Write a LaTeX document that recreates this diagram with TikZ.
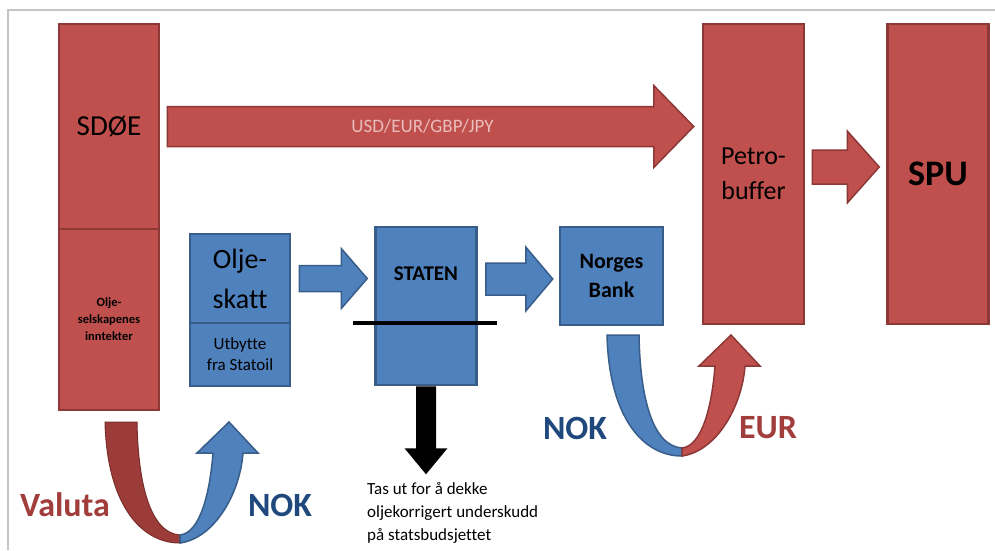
\documentclass[tikz,border=0pt]{standalone}
\usepackage{fontspec}
\setmainfont{Carlito}[Ligatures=NoCommon]
\usepackage{tikz}
\usetikzlibrary{calc,positioning}
\definecolor{redfill}{HTML}{C0504D}
\definecolor{redline}{HTML}{8C3836}
\definecolor{darkredfill}{HTML}{9B3C39}
\definecolor{darkredline}{HTML}{7A2D2B}
\definecolor{bluefill}{HTML}{4F81BD}
\definecolor{blueline}{HTML}{385D8A}
\definecolor{navytext}{HTML}{1F497D}
\definecolor{redtext}{HTML}{A13D3A}
\definecolor{pinktext}{HTML}{E8BDBC}
\definecolor{framegray}{HTML}{C4C4C4}
\tikzstyle{red box}=[rectangle,draw=redline,fill=redfill,line width=2.5pt,inner sep=0pt,align=center]
\tikzstyle{blue box}=[rectangle,draw=blueline,fill=bluefill,line width=2.5pt,inner sep=0pt,align=center]
\tikzstyle{red arrow}=[draw=redline,fill=redfill,line width=1.5pt]
\tikzstyle{dark red arrow}=[draw=darkredline,fill=darkredfill,line width=1pt]
\tikzstyle{blue arrow}=[draw=blueline,fill=bluefill,line width=1.5pt]
\tikzstyle{black arrow}=[fill=black]
\tikzstyle{currency}=[font=\fontsize{34}{40}\selectfont\bfseries]
% block arrow: style, from, to, half shaft, half head, head length
\newcommand{\blockarrow}[6]{%
  \coordinate (ba-h) at ($(#3)!#6pt!(#2)$);
  \path[#1] ($(#2)!#4pt!90:(#3)$) -- ($(ba-h)!#4pt!90:(#3)$) -- ($(ba-h)!#5pt!90:(#3)$)
    -- (#3) -- ($(ba-h)!#5pt!-90:(#3)$) -- ($(ba-h)!#4pt!-90:(#3)$) -- ($(#2)!#4pt!-90:(#3)$) -- cycle;}
% u-turn arrow: left style, right style, bottom point
\newcommand{\uturn}[3]{%
  \begin{scope}[shift={(#3)}]
    \path[#1] (-75,-121) .. controls (-73,-40) and (-40,0) .. (0,0) -- (0,-8)
      .. controls (-30,-10) and (-42,-60) .. (-43,-121) -- cycle;
    \path[#2] (0,0) .. controls (35,-5) and (60,-50) .. (63,-90) -- (78,-90) -- (49,-121)
      -- (17,-90) -- (33,-90) .. controls (30,-50) and (20,-10) .. (0,-8) -- cycle;
  \end{scope}}

\begin{document}
\begin{tikzpicture}[x=1pt,y=-1pt]
        \useasboundingbox (0,0) rectangle (995,550);
        \draw[framegray,line width=1.5pt] (995,10) -- (8,10) -- (8,550);
        % boxes
        \node[red box,minimum width=100pt,minimum height=205pt,font=\fontsize{29}{34}\selectfont] (sdoe) at (109,126.5) {SD\O E};
        \node[red box,minimum width=100pt,minimum height=181pt,font=\fontsize{12.5}{17}\selectfont\bfseries] (inntekter) at (109,319.5) {Olje-\\selskapenes\\inntekter};
        \node[red box,minimum width=101pt,minimum height=300pt,font=\fontsize{26}{35}\selectfont] (petro) at (753.5,174) {Petro-\\buffer};
        \node[red box,minimum width=101pt,minimum height=300pt,font=\fontsize{36}{40}\selectfont\bfseries] (spu) at (938,174) {SPU};
        \node[blue box,minimum width=100pt,minimum height=89pt,font=\fontsize{28}{40}\selectfont] (olje) at (240,278.5) {Olje-\\skatt};
        \node[blue box,minimum width=100pt,minimum height=63pt,font=\fontsize{17}{21}\selectfont] (utbytte) at (240,354.5) {Utbytte\\fra Statoil};
        \node[blue box,minimum width=101pt,minimum height=158pt] (staten) at (426,306) {};
        \node[font=\fontsize{21}{25}\selectfont\bfseries] (staten-txt) at ($(staten.north)+(0,48)$) {STATEN};
        \node[blue box,minimum width=103pt,minimum height=98pt,font=\fontsize{22}{29}\selectfont\bfseries] (nb) at (611.5,276) {Norges\\Bank};
        \draw[line width=3.5pt] ($(staten.west)+(-21,17)$) -- ($(staten.east)+(19,17)$);
        % block arrows
        \coordinate (usd-s) at ($(sdoe.east)+(7,0)$);
        \coordinate (usd-e) at ($(petro.west |- usd-s)+(-8,0)$);
        \blockarrow{red arrow}{usd-s}{usd-e}{20}{41}{40}
        \node[font=\fontsize{19}{22}\selectfont,text=pinktext] (usd) at ($(usd-s)!0.5!(usd-e)+(-8,0)$) {USD/EUR/GBP/JPY};
        \coordinate (spu-s) at ($(petro.east)+(7,-7)$);
        \coordinate (spu-e) at ($(spu.west)+(-7,-7)$);
        \blockarrow{red arrow}{spu-s}{spu-e}{17}{36}{32}
        \coordinate (olje-s) at ($(olje.east)+(8,0)$);
        \coordinate (olje-e) at ($(staten.west |- olje-s)+(-7,0)$);
        \blockarrow{blue arrow}{olje-s}{olje-e}{13}{30}{26}
        \coordinate (nb-s) at ($(staten.east |- nb.west)+(8,3)$);
        \coordinate (nb-e) at ($(nb.west)+(-6,3)$);
        \blockarrow{blue arrow}{nb-s}{nb-e}{16}{32}{27}
        \coordinate (ut-e) at ($(staten.south)+(0,88)$);
        \blockarrow{black arrow}{staten.south}{ut-e}{10}{21.5}{26}
        \node[anchor=north west,align=left,inner sep=0pt,font=\fontsize{17}{23}\selectfont] (uttak) at ($(ut-e)+(-59,8)$) {Tas ut for å dekke\\oljekorrigert underskudd\\på statsbudsjettet};
        % currency exchange
        \coordinate (veksel-a) at (180,543);
        \coordinate (veksel-b) at (682,456);
        \uturn{dark red arrow}{blue arrow}{veksel-a}
        \uturn{blue arrow}{red arrow}{veksel-b}
        \node[currency,text=redtext] (valuta) at (65,505) {Valuta};
        \node[currency,text=navytext] (nok-a) at (280,505) {NOK};
        \node[currency,text=navytext] (nok-b) at (575,428) {NOK};
        \node[currency,text=redtext] (eur) at (768,428) {EUR};
      \end{tikzpicture}
\end{document}
